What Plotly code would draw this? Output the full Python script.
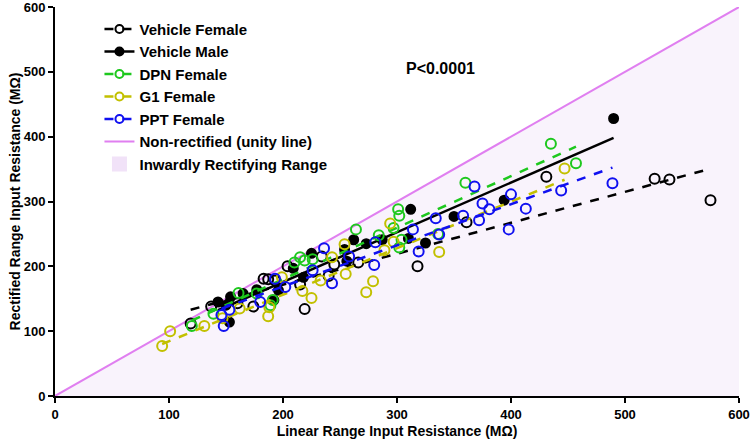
import numpy as np
import plotly.graph_objects as go

# ---- data (MΩ) ----
vf_x = [119, 137, 160, 174, 183, 187, 193, 204, 215, 219, 234, 240, 245, 266, 318, 361, 431, 526, 539, 575]
vf_y = [112, 138, 143, 138, 181, 180, 178, 200, 172, 134, 215, 185, 203, 206, 200, 268, 338, 335, 334, 302]

vm_x = [143, 150, 153, 154, 165, 177, 192, 196, 209, 218, 225, 254, 256, 262, 273, 287, 310, 312, 325, 350, 394, 490]
vm_y = [145, 140, 114, 153, 158, 164, 148, 163, 197, 183, 220, 226, 208, 241, 235, 241, 243, 288, 236, 277, 302, 428]

dpn_x = [120, 139, 161, 177, 189, 191, 210, 215, 219, 226, 264, 284, 297, 301, 302, 304, 302, 336, 360, 435, 457]
dpn_y = [108, 127, 159, 158, 140, 148, 206, 214, 209, 211, 257, 248, 259, 288, 278, 241, 229, 250, 329, 389, 359]

g1_x = [94, 101, 131, 147, 162, 187, 188, 199, 217, 225, 233, 243, 254, 255, 273, 279, 289, 294, 297, 337, 447]
g1_y = [77, 100, 108, 120, 135, 123, 137, 183, 162, 151, 178, 214, 234, 188, 160, 177, 225, 266, 238, 222, 351]

ppt_x = [146, 148, 153, 180, 193, 202, 226, 236, 243, 258, 280, 281, 314, 319, 334, 337, 358, 368, 372, 375, 381, 398, 400, 413, 444, 489]
ppt_y = [125, 108, 133, 145, 181, 168, 194, 228, 174, 215, 202, 237, 257, 223, 274, 249, 278, 323, 271, 297, 288, 257, 311, 289, 317, 328]

series = [
    ("Vehicle Female", vf_x, vf_y, "#000000", "circle-open", "dash"),
    ("Vehicle Male", vm_x, vm_y, "#000000", "circle", "solid"),
    ("DPN Female", dpn_x, dpn_y, "#1ec81e", "circle-open", "dash"),
    ("G1 Female", g1_x, g1_y, "#c2c000", "circle-open", "dash"),
    ("PPT Female", ppt_x, ppt_y, "#1010f0", "circle-open", "dash"),
]

axis_max = 600
tick_vals = [0, 100, 200, 300, 400, 500, 600]

fig = go.Figure()

# inwardly rectifying range (below unity)
fill_col = "rgba(236,214,246,0.3)"
fig.add_trace(go.Scatter(x=[0, axis_max, axis_max, 0], y=[0, axis_max, 0, 0], mode="lines",
                         fill="toself", fillcolor=fill_col, line=dict(width=0),
                         showlegend=False, hoverinfo="skip"))
fig.add_trace(go.Scatter(x=[None], y=[None], mode="markers", name="Inwardly Rectifying Range",
                         legendrank=7,
                         marker=dict(symbol="square", size=15, color="#f1e2f8", line=dict(width=0))))
# unity line
fig.add_trace(go.Scatter(x=[0, axis_max], y=[0, axis_max], mode="lines",
                         line=dict(color="#e07ff0", width=2),
                         name="Non-rectified (unity line)", legendrank=6))

for i, (name, xs, ys, col, sym, dash) in enumerate(series):
    xs = np.array(xs, float)
    ys = np.array(ys, float)
    m, b = np.polyfit(xs, ys, 1)
    fx = np.array([xs.min(), xs.max()])
    fig.add_trace(go.Scatter(x=fx, y=m * fx + b, mode="lines",
                             line=dict(color=col, width=2.5, dash=dash),
                             showlegend=False, legendgroup=name, hoverinfo="skip"))
    fig.add_trace(go.Scatter(x=xs, y=ys, mode="markers",
                             marker=dict(color=col, symbol=sym, size=10 if "open" in sym else 9,
                                         line=dict(color=col, width=2)),
                             showlegend=False, legendgroup=name, name=name))
    # legend entry
    fig.add_trace(go.Scatter(x=[None], y=[None], mode="lines+markers", name=name,
                             legendgroup=name, legendrank=i + 1,
                             line=dict(color=col, width=2.5, dash=dash),
                             marker=dict(color=col, symbol=sym, size=8,
                                         line=dict(color=col, width=2))))

fig.add_annotation(x=338, y=505, text="<b>P&lt;0.0001</b>", showarrow=False,
                   font=dict(size=16, color="black", family="Liberation Sans, Arial"),
                   xanchor="center", yanchor="middle")

axis_common = dict(range=[0, axis_max], tickvals=tick_vals, showgrid=False, zeroline=False,
                   showline=True, linecolor="black", linewidth=2, ticks="outside",
                   ticklen=5, tickwidth=2, tickcolor="black", ticklabeloverflow="allow",
                   tickfont=dict(size=13, color="black", family="Liberation Sans, Arial", weight="bold"))

fig.update_layout(
    width=750, height=445,
    margin=dict(l=55, r=11, t=7, b=49, autoexpand=False),
    plot_bgcolor="white", paper_bgcolor="white",
    font=dict(family="Liberation Sans, Arial", color="black"),
    xaxis=dict(**axis_common,
               title=dict(text="<b>Linear Range Input Resistance (MΩ)</b>", font=dict(size=14), standoff=6)),
    yaxis=dict(**axis_common,
               title=dict(text="<b>Rectified Range Input Resistance (MΩ)</b>", font=dict(size=14), standoff=0)),
    legend=dict(x=0.065, y=0.985, xanchor="left", yanchor="top", bgcolor="rgba(0,0,0,0)",
                font=dict(size=15, color="black", family="Liberation Sans, Arial", weight="bold"),
                tracegroupgap=0, itemwidth=30),
    showlegend=True,
)

fig.write_html("out.html", config={"displayModeBar": False},
               post_script="document.body.style.margin='0';document.body.style.overflow='hidden';")
